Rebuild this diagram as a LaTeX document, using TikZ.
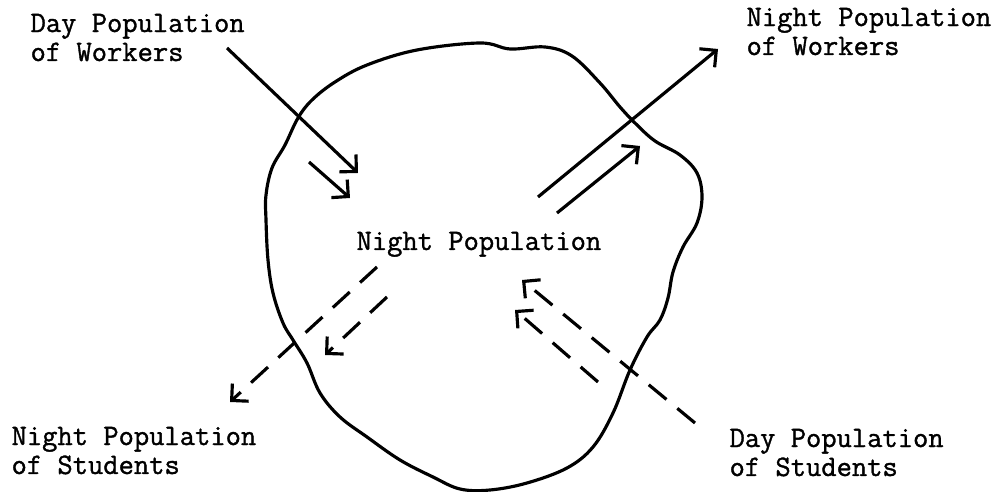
\documentclass[tikz,border=0pt]{standalone}
\usepackage{fontspec}
\newfontfamily\typefont{Latin Modern Mono}[FakeBold=1.2]
\usetikzlibrary{arrows.meta}

\begin{document}
\begin{tikzpicture}[x=0.02cm, y=-0.02cm, line width=1.8pt,
  >={Straight Barb[length=0.24cm, width=0.48cm]},
  lbl/.style={inner sep=0, anchor=base west, align=left, font=\typefont\fontsize{16.9pt}{16.5pt}\selectfont},
  dashflow/.style={->, dash pattern=on 0.46cm off 0.28cm}]
\useasboundingbox (0,0) rectangle (1002,492);
\draw[line join=round] plot[smooth cycle, tension=0.6] coordinates {
  (480,43) (510,49) (545,47) (572,56) (600,83) (620,107) (636,124) (655,141)
  (680,155) (697,173) (702,197) (697,223) (683,247) (673,272) (668,298) (660,320)
  (647,337) (630,370) (613,413) (593,447) (567,468) (527,483) (490,490) (460,489)
  (433,477) (400,460) (367,437) (340,417) (320,393) (307,363) (293,340) (283,323)
  (273,293) (268,260) (266,220) (266,195) (272,168) (285,145) (298,118) (312,100)
  (335,82) (367,65) (417,50)};
\node[lbl] (dw) at (29,61) {Day Population\\of Workers};
\node[lbl] (nw) at (745,55) {Night Population\\of Workers};
\node[lbl] (ns) at (10,474) {Night Population\\of Students};
\node[lbl] (ds) at (728,476) {Day Population\\of Students};
\node[lbl] (np) at (355,250) {Night Population};
\coordinate (dw1) at (227,48);
\coordinate (dw2) at (358,173);
\coordinate (dw3) at (309,162);
\coordinate (dw4) at (350,198);
\coordinate (nw1) at (538,197);
\coordinate (nw2) at (718,49);
\coordinate (nw3) at (557,213);
\coordinate (nw4) at (640,146);
\coordinate (ns1) at (377,267);
\coordinate (ns2) at (230,402);
\coordinate (ns3) at (387,297);
\coordinate (ns4) at (325,355);
\coordinate (ds1) at (695,423);
\coordinate (ds2) at (522,280);
\coordinate (ds3) at (598,382);
\coordinate (ds4) at (515,310);
\draw[->] (dw1) -- (dw2);
\draw[->] (dw3) -- (dw4);
\draw[->] (nw1) -- (nw2);
\draw[->] (nw3) -- (nw4);
\draw[dashflow] (ns1) -- (ns2);
\draw[dashflow] (ns3) -- (ns4);
\draw[dashflow] (ds1) -- (ds2);
\draw[dashflow] (ds3) -- (ds4);
\end{tikzpicture}
\end{document}
